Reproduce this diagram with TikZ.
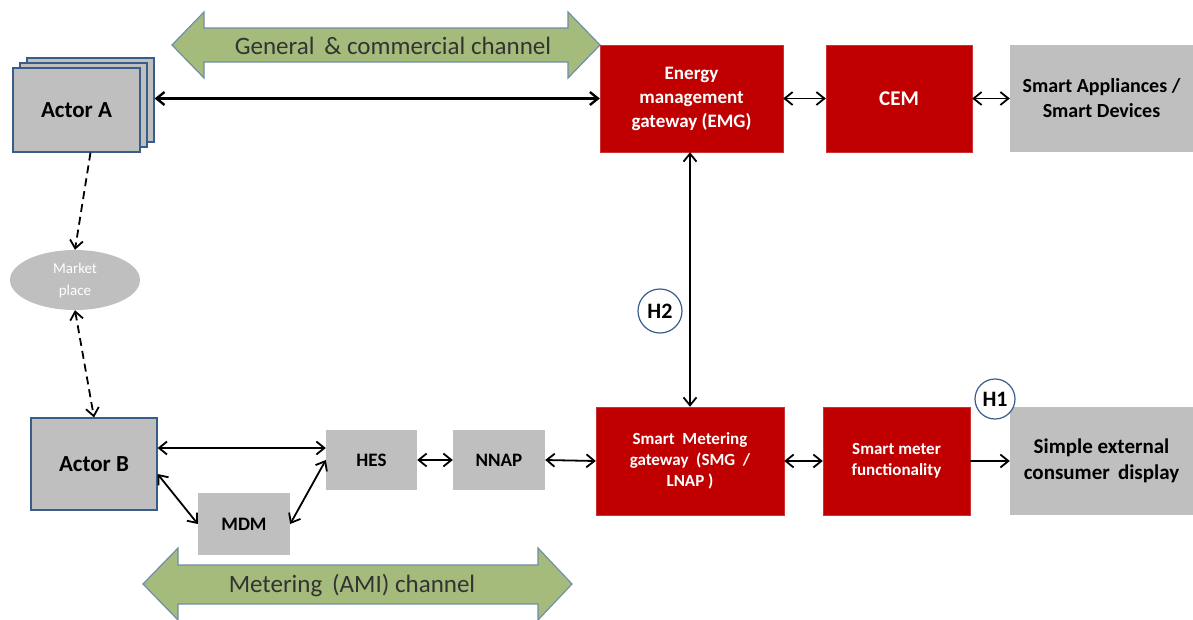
\documentclass[tikz,border=0pt]{standalone}
\usepackage{fontspec}
\setmainfont{Carlito}
\usepackage{xcolor}
\usetikzlibrary{positioning, arrows.meta, shapes.geometric, shadows}

\definecolor{emgred}{RGB}{192,0,0}
\definecolor{boxgray}{RGB}{191,191,191}
\definecolor{actblue}{RGB}{56,93,138}
\definecolor{chanfill}{RGB}{165,187,124}
\definecolor{chanline}{RGB}{112,142,170}

\begin{document}
\begin{tikzpicture}[
  x=1pt, y=-1pt,
  redbox/.style={fill=emgred, draw=emgred!80, inner sep=2pt, align=center,
    text=white, font=\bfseries\fontsize{19}{24}\selectfont},
  graybox/.style={fill=boxgray, inner sep=2pt, align=center,
    font=\bfseries\fontsize{20}{25}\selectfont},
  actor/.style={fill=boxgray, draw=actblue, line width=1.2pt, align=center,
    font=\bfseries\fontsize{23}{27}\selectfont},
  hmark/.style={circle, draw=actblue, fill=white, line width=1.2pt, inner sep=0pt,
    font=\bfseries\fontsize{22}{24}\selectfont},
  link/.style={draw, line width=1.8pt, <->,
    >={Straight Barb[length=8pt, width=13pt]}},
  channel/.style={fill=chanfill, draw=chanline, line width=1.2pt},
]
  \useasboundingbox (0,0) rectangle (1193,619);

  % Channel arrows
  \filldraw[channel] (172,45) -- (204,12) -- (204,28) -- (568,28) -- (568,12)
    -- (600,45) -- (568,78) -- (568,62) -- (204,62) -- (204,78) -- cycle;
  \node[font=\fontsize{25}{28}\selectfont, text=black!80] (gench) at (393,46)
    {General \,\& commercial channel};

  \filldraw[channel] (143,584) -- (178,548) -- (178,565) -- (538,565) -- (538,548)
    -- (572,584) -- (538,620) -- (538,604) -- (178,604) -- (178,620) -- cycle;
  \node[font=\fontsize{25}{28}\selectfont, text=black!80] (metch) at (352,585)
    {Metering \,(AMI) channel};

  % Upper row
  \node[actor, minimum width=127pt, minimum height=84pt,
        double copy shadow={shadow xshift=7pt, shadow yshift=5pt}]
    (actA) at (76.5,110) {Actor A};
  \node[redbox, minimum width=183pt, minimum height=107pt] (emg) at (691.5,98.5)
    {Energy\\management\\gateway (EMG)};
  \node[redbox, minimum width=146pt, minimum height=107pt,
        font=\bfseries\fontsize{21}{24}\selectfont] (cem) at (899,98.5) {CEM};
  \node[graybox, minimum width=183pt, minimum height=107pt] (appl) at (1101.5,98.5)
    {Smart Appliances /\\Smart Devices};

  % Market place
  \node[ellipse, fill=boxgray, minimum width=130pt, minimum height=60pt,
        inner sep=0pt, text=white, align=center,
        font=\fontsize{15}{22}\selectfont]
    (market) at (75,280) {Market\\place};

  % Lower row
  \node[actor, minimum width=126pt, minimum height=92pt] (actB) at (94,464)
    {Actor B};
  \node[graybox, minimum width=91pt, minimum height=60pt,
        font=\bfseries\fontsize{19}{22}\selectfont] (hes) at (371.5,460) {HES};
  \node[graybox, minimum width=92pt, minimum height=60pt,
        font=\bfseries\fontsize{19}{22}\selectfont] (nnap) at (499,460) {NNAP};
  \node[graybox, minimum width=92pt, minimum height=62pt,
        font=\bfseries\fontsize{19}{22}\selectfont] (mdm) at (244,524) {MDM};
  \node[redbox, minimum width=188pt, minimum height=108pt,
        font=\bfseries\fontsize{17}{21}\selectfont] (smg) at (690,461)
    {Smart \ Metering\\gateway \ (SMG \ /\\LNAP )};
  \node[redbox, minimum width=147pt, minimum height=108pt,
        font=\bfseries\fontsize{17}{21}\selectfont] (smf) at (896.5,461)
    {Smart meter\\functionality};
  \node[graybox, minimum width=183pt, minimum height=108pt,
        font=\bfseries\fontsize{21}{26}\selectfont] (disp) at (1101.5,461)
    {Simple external\\consumer \,display};

  % Connectors
  \draw[link, line width=2.4pt] ([xshift=14pt]actA.east |- emg.west) -- (emg.west);
  \draw[link] (emg.east) -- (cem.west);
  \draw[link] (cem.east) -- (appl.west);
  \draw[link] (emg.south -| smg.north) -- (smg.north);

  \draw[link, dash pattern=on 8pt off 5pt, ->] ([xshift=14pt]actA.south) -- (market.north);
  \draw[link, dash pattern=on 8pt off 5pt] (market.south) -- (actB.north);

  \draw[link] ([yshift=16pt]actB.east) -- (hes.west |- 0,448);
  \draw[link] ([yshift=-10pt]actB.east) -- (mdm.west);
  \draw[link] (mdm.east) -- (hes.west);
  \draw[link] (hes.east) -- (nnap.west);
  \draw[link] (nnap.east) -- (smg.west);
  \draw[link] (smg.east) -- (smf.west);
  \draw[link, ->] (smf.east) -- (disp.west);

  % Interface marks
  \node[hmark, minimum size=44pt] (htwo) at (660,311) {H2};
  \node[hmark, minimum size=40pt] (hone) at (995,399) {H1};

\end{tikzpicture}
\end{document}
